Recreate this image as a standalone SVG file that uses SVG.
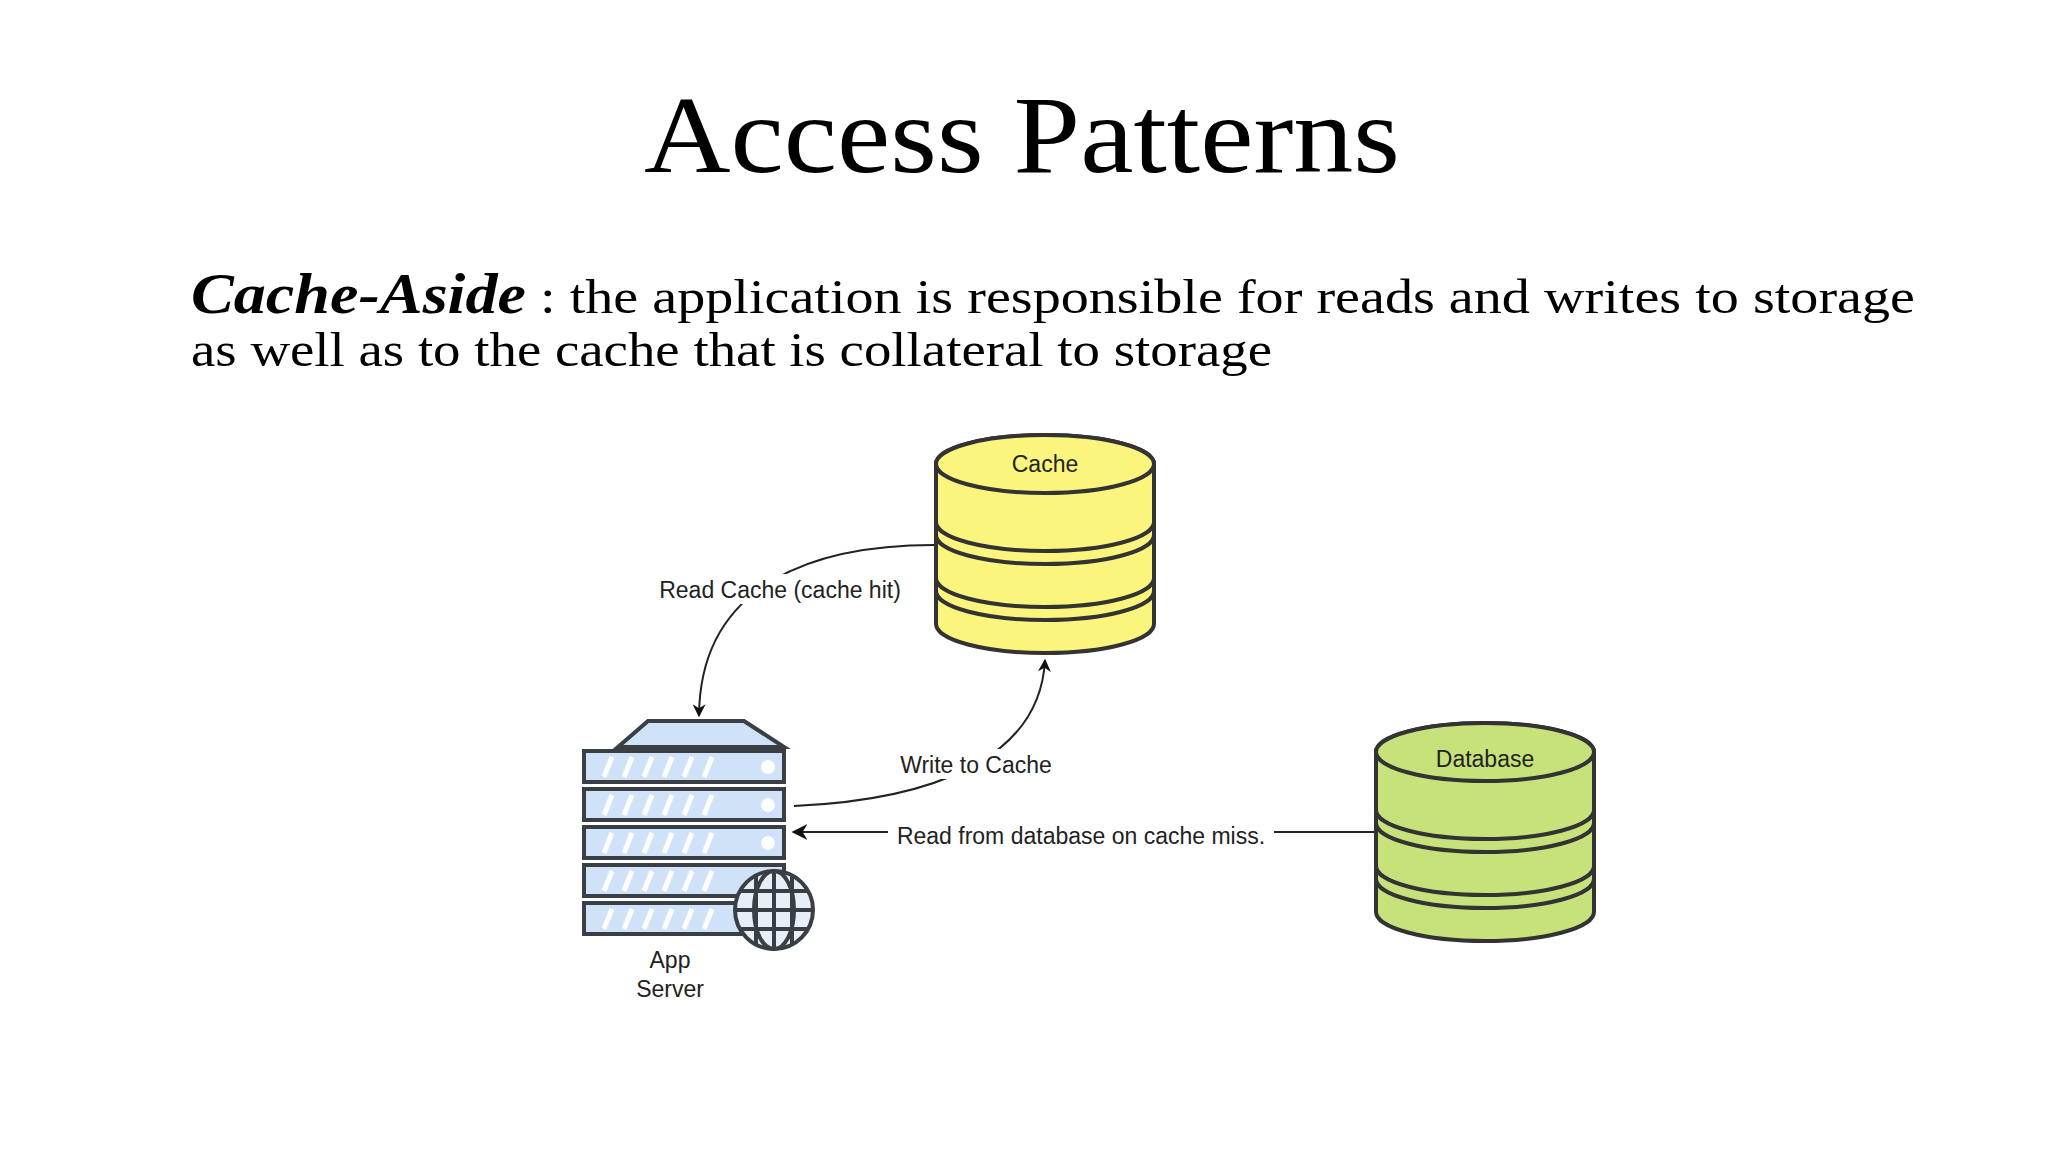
<svg xmlns="http://www.w3.org/2000/svg" width="2048" height="1152" viewBox="0 0 2048 1152">
<style>
.serif{font-family:"Liberation Serif","DejaVu Serif",serif;fill:#000}
.lbl{font-family:"Liberation Sans",Arial,sans-serif;font-size:23px;fill:#222}
.cyl{stroke:#333;stroke-width:4}
.edge{fill:none;stroke:#222;stroke-width:2}
.slot{fill:#cfe2f7;stroke:#3a3f45;stroke-width:4}
.stripe{stroke:#fff;stroke-width:5}
</style>
<defs>
<marker id="ah" viewBox="0 0 10 10" refX="9" refY="5" markerWidth="13" markerHeight="13" markerUnits="userSpaceOnUse" orient="auto"><path d="M0,0L10,5L0,10L3,5Z" fill="#111"/></marker>
<marker id="ah2" viewBox="0 0 10 10" refX="9" refY="5" markerWidth="16" markerHeight="16" markerUnits="userSpaceOnUse" orient="auto"><path d="M0,0L10,5L0,10L3,5Z" fill="#111"/></marker>
<g id="stripes"><line class="stripe" x1="604" y1="28" x2="612" y2="8"/><line class="stripe" x1="624" y1="28" x2="632" y2="8"/><line class="stripe" x1="644" y1="28" x2="652" y2="8"/><line class="stripe" x1="664" y1="28" x2="672" y2="8"/><line class="stripe" x1="684" y1="28" x2="692" y2="8"/><line class="stripe" x1="704" y1="28" x2="712" y2="8"/></g>
</defs>
<rect width="2048" height="1152" fill="#fff"/>
<text class="serif" x="644" y="172" font-size="110" textLength="756" lengthAdjust="spacingAndGlyphs">Access Patterns</text>
<text class="serif" x="191" y="313" font-size="49" textLength="1724" lengthAdjust="spacingAndGlyphs"><tspan font-weight="bold" font-style="italic" font-size="56">Cache-Aside</tspan> : the application is responsible for reads and writes to storage</text>
<text class="serif" x="191" y="366" font-size="49" textLength="1081" lengthAdjust="spacingAndGlyphs">as well as to the cache that is collateral to storage</text>

<g id="connectors">
<path class="edge" d="M934,545 C820,545 700,580 699,716" marker-end="url(#ah)"/>
<path class="edge" d="M794,806 C930,800 1040,760 1045,660" marker-end="url(#ah)"/>
<line class="edge" x1="1374" y1="832" x2="793" y2="832" marker-end="url(#ah2)"/>
<rect x="682" y="574" width="196" height="30" fill="#fff"/>
<text class="lbl" x="780" y="598" text-anchor="middle">Read Cache (cache hit)</text>
<rect x="894" y="749" width="164" height="30" fill="#fff"/>
<text class="lbl" x="976" y="773" text-anchor="middle">Write to Cache</text>
<rect x="888" y="820" width="386" height="30" fill="#fff"/>
<text class="lbl" x="1081" y="844" text-anchor="middle">Read from database on cache miss.</text>
</g>

<g id="cache">
<path class="cyl" fill="#fbf57e" d="M936,464 L936,624 A109,29 0 0 0 1154,624 L1154,464 A109,29 0 0 0 936,464Z"/>
<ellipse class="cyl" fill="#fbf57e" cx="1045" cy="464" rx="109" ry="29"/>
<path class="cyl" fill="none" d="M936,522 A109,29 0 0 0 1154,522 M936,535 A109,29 0 0 0 1154,535 M936,578 A109,29 0 0 0 1154,578 M936,591 A109,29 0 0 0 1154,591"/>
<text class="lbl" x="1045" y="472" text-anchor="middle" font-size="25">Cache</text>
</g>

<g id="database">
<path class="cyl" fill="#c7e27a" d="M1376,752 L1376,912 A109,29 0 0 0 1594,912 L1594,752 A109,29 0 0 0 1376,752Z"/>
<ellipse class="cyl" fill="#c7e27a" cx="1485" cy="752" rx="109" ry="29"/>
<path class="cyl" fill="none" d="M1376,810 A109,29 0 0 0 1594,810 M1376,823 A109,29 0 0 0 1594,823 M1376,866 A109,29 0 0 0 1594,866 M1376,879 A109,29 0 0 0 1594,879"/>
<text class="lbl" x="1485" y="767" text-anchor="middle" font-size="25">Database</text>
</g>

<g id="app-server">
<path d="M618,747 L648,721 L744,721 L784,747Z" fill="#cfe2f7" stroke="#3a3f45" stroke-width="4"/>
<g transform="translate(0,749)"><rect class="slot" x="584" y="2" width="200" height="31"/><use href="#stripes"/><circle cx="768" cy="18" r="7" fill="#fff"/></g>
<g transform="translate(0,787)"><rect class="slot" x="584" y="2" width="200" height="31"/><use href="#stripes"/><circle cx="768" cy="18" r="7" fill="#fff"/></g>
<g transform="translate(0,825)"><rect class="slot" x="584" y="2" width="200" height="31"/><use href="#stripes"/><circle cx="768" cy="18" r="7" fill="#fff"/></g>
<g transform="translate(0,863)"><rect class="slot" x="584" y="2" width="200" height="31"/><use href="#stripes"/></g>
<g transform="translate(0,901)"><rect class="slot" x="584" y="2" width="200" height="31"/><use href="#stripes"/></g>
<g fill="none" stroke="#3a3f45" stroke-width="4">
<circle cx="774" cy="910" r="39" fill="#e8eef5"/>
<ellipse cx="774" cy="910" rx="20" ry="39"/>
<line x1="774" y1="871" x2="774" y2="949"/>
<line x1="735" y1="910" x2="813" y2="910"/>
<line x1="740" y1="891" x2="808" y2="891"/>
<line x1="740" y1="929" x2="808" y2="929"/>
<line x1="756" y1="874" x2="756" y2="946"/>
<line x1="792" y1="874" x2="792" y2="946"/>
</g>
<text class="lbl" x="670" y="968" text-anchor="middle" font-size="25">App</text>
<text class="lbl" x="670" y="997" text-anchor="middle" font-size="25">Server</text>
</g>
</svg>
